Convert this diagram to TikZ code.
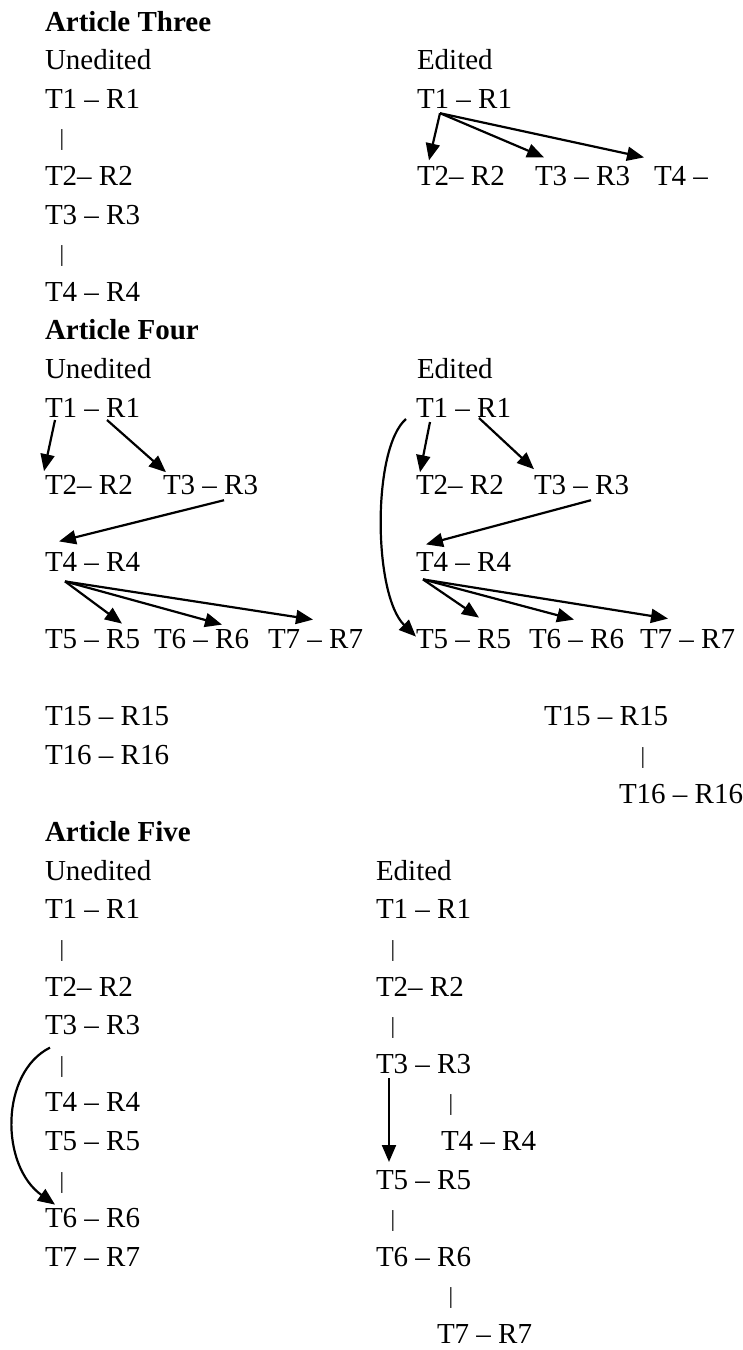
\documentclass[tikz,border=0pt]{standalone}
\usepackage{fontspec}
\setmainfont{Liberation Serif}
\usetikzlibrary{arrows.meta,calc}
\newcommand\rb[1]{31+38.6*#1}
\newcommand\rc[1]{24.5+38.6*#1}
\begin{document}
\begin{tikzpicture}[x=1pt,y=-1pt,
  txt/.style={font=\fontsize{29}{34}\selectfont, inner sep=0pt, outer sep=0pt, anchor=base west},
  hd/.style={txt, font=\fontsize{29}{34}\selectfont\bfseries},
  barnode/.style={font=\fontsize{23}{23}\selectfont, inner sep=0pt, outer sep=0pt, anchor=center},
  arr/.style={line width=2.2pt, -{Triangle[length=17pt,width=14pt]}}]
\useasboundingbox (0,0) rectangle (742,1350);
% ---------------- Article Three
\node[hd]  (a3h)  at (45,{\rb{0}}) {Article Three};
\node[txt] (a3ul) at (45,{\rb{1}}) {Unedited};
\node[txt] (a3el) at (417,{\rb{1}}) {Edited};
\node[txt] (a3u1) at (45,{\rb{2}}) {T1 – R1};
\node[barnode] (a3b1) at (62,{\rc{3}}) {|};
\node[txt] (a3u2) at (45,{\rb{4}}) {T2– R2};
\node[txt] (a3u3) at (45,{\rb{5}}) {T3 – R3};
\node[barnode] (a3b2) at (62,{\rc{6}}) {|};
\node[txt] (a3u4) at (45,{\rb{7}}) {T4 – R4};
\node[txt] (a3e1) at (417,{\rb{2}}) {T1 – R1};
\node[txt] (a3e2) at (417,{\rb{4}}) {T2– R2};
\node[txt] (a3e3) at (535,{\rb{4}}) {T3 – R3};
\node[txt] (a3e4) at (654,{\rb{4}}) {T4 –};
\draw[arr] ($(a3e1.base west)+(23,5)$) -- ($(a3e2.base west)+(12,-25)$);
\draw[arr] ($(a3e1.base west)+(23,5)$) -- ($(a3e3.base west)+(9,-28)$);
\draw[arr] ($(a3e1.base west)+(23,5)$) -- ($(a3e4.base west)+(-10,-28)$);
% ---------------- Article Four
\node[hd]  (a4h)  at (45,{\rb{8}}) {Article Four};
\node[txt] (a4ul) at (45,{\rb{9}}) {Unedited};
\node[txt] (a4el) at (417,{\rb{9}}) {Edited};
\node[txt] (a4u1) at (45,{\rb{10}}) {T1 – R1};
\node[txt] (a4u2) at (45,{\rb{12}}) {T2– R2};
\node[txt] (a4u3) at (163,{\rb{12}}) {T3 – R3};
\node[txt] (a4u4) at (45,{\rb{14}}) {T4 – R4};
\node[txt] (a4u5) at (45,{\rb{16}}) {T5 – R5};
\node[txt] (a4u6) at (154,{\rb{16}}) {T6 – R6};
\node[txt] (a4u7) at (268,{\rb{16}}) {T7 – R7};
\node[txt] (a4u15) at (45,{\rb{18}}) {T15 – R15};
\node[txt] (a4u16) at (45,{\rb{19}}) {T16 – R16};
\draw[arr] ($(a4u1.base west)+(10,3)$) -- ($(a4u2.base west)+(-1,-23)$);
\draw[arr] ($(a4u1.base west)+(62,3)$) -- ($(a4u3.base west)+(3,-22)$);
\draw[arr] ($(a4u3.base west)+(61,6)$) -- ($(a4u4.base west)+(14,-30)$);
\draw[arr] ($(a4u4.base west)+(20,10)$) -- ($(a4u5.base west)+(77,-25)$);
\draw[arr] ($(a4u4.base west)+(20,10)$) -- ($(a4u6.base west)+(68,-24)$);
\draw[arr] ($(a4u4.base west)+(20,10)$) -- ($(a4u7.base west)+(45,-29)$);
\node[txt] (a4e1) at (416,{\rb{10}}) {T1 – R1};
\node[txt] (a4e2) at (416,{\rb{12}}) {T2– R2};
\node[txt] (a4e3) at (534,{\rb{12}}) {T3 – R3};
\node[txt] (a4e4) at (416,{\rb{14}}) {T4 – R4};
\node[txt] (a4e5) at (416,{\rb{16}}) {T5 – R5};
\node[txt] (a4e6) at (529,{\rb{16}}) {T6 – R6};
\node[txt] (a4e7) at (640,{\rb{16}}) {T7 – R7};
\node[txt] (a4e15) at (544,{\rb{18}}) {T15 – R15};
\node[barnode] (a4eb) at (643,{\rc{19}}) {|};
\node[txt] (a4e16) at (619,{\rb{20}}) {T16 – R16};
\draw[arr] ($(a4e1.base west)+(14,5)$) -- ($(a4e2.base west)+(4,-22)$);
\draw[arr] ($(a4e1.base west)+(63,1)$) -- ($(a4e3.base west)+(0,-25)$);
\draw[arr] ($(a4e3.base west)+(57,6)$) -- ($(a4e4.base west)+(10,-27)$);
\draw[arr] ($(a4e4.base west)+(7,8)$) -- ($(a4e5.base west)+(63,-31)$);
\draw[arr] ($(a4e4.base west)+(7,8)$) -- ($(a4e6.base west)+(45,-29)$);
\draw[arr] ($(a4e4.base west)+(7,8)$) -- ($(a4e7.base west)+(28,-30)$);
\coordinate (c4s) at ($(a4e1.base west)+(-10,2)$);
\coordinate (c4e) at ($(a4e5.base west)+(0,-12)$);
\draw[arr] (c4s) .. controls +(-34,29) and +(-43,-42) .. (c4e);
% ---------------- Article Five
\node[hd]  (a5h)  at (45,{\rb{21}}) {Article Five};
\node[txt] (a5ul) at (45,{\rb{22}}) {Unedited};
\node[txt] (a5el) at (376,{\rb{22}}) {Edited};
\node[txt] (a5u1) at (45,{\rb{23}}) {T1 – R1};
\node[barnode] (a5ub1) at (62,{\rc{24}}) {|};
\node[txt] (a5u2) at (45,{\rb{25}}) {T2– R2};
\node[txt] (a5u3) at (45,{\rb{26}}) {T3 – R3};
\node[barnode] (a5ub2) at (62,{\rc{27}}) {|};
\node[txt] (a5u4) at (45,{\rb{28}}) {T4 – R4};
\node[txt] (a5u5) at (45,{\rb{29}}) {T5 – R5};
\node[barnode] (a5ub3) at (62,{\rc{30}}) {|};
\node[txt] (a5u6) at (45,{\rb{31}}) {T6 – R6};
\node[txt] (a5u7) at (45,{\rb{32}}) {T7 – R7};
\coordinate (c5s) at ($(a5u3.base west)+(5,13)$);
\coordinate (c5e) at ($(a5u6.base west)+(10,-23)$);
\draw[arr] (c5s) .. controls +(-50,25) and +(-55,-39) .. (c5e);
\node[txt] (a5e1) at (376,{\rb{23}}) {T1 – R1};
\node[barnode] (a5eb1) at (393,{\rc{24}}) {|};
\node[txt] (a5e2) at (376,{\rb{25}}) {T2– R2};
\node[barnode] (a5eb2) at (393,{\rc{26}}) {|};
\node[txt] (a5e3) at (376,{\rb{27}}) {T3 – R3};
\node[barnode] (a5eb3) at (451,{\rc{28}}) {|};
\node[txt] (a5e4) at (441,{\rb{29}}) {T4 – R4};
\node[txt] (a5e5) at (376,{\rb{30}}) {T5 – R5};
\node[barnode] (a5eb4) at (393,{\rc{31}}) {|};
\node[txt] (a5e6) at (376,{\rb{32}}) {T6 – R6};
\node[barnode] (a5eb5) at (451,{\rc{33}}) {|};
\node[txt] (a5e7) at (437,{\rb{34}}) {T7 – R7};
\draw[arr] ($(a5e3.base west)+(13,5)$) -- ($(a5e5.base west)+(13,-27)$);
\end{tikzpicture}
\end{document}
